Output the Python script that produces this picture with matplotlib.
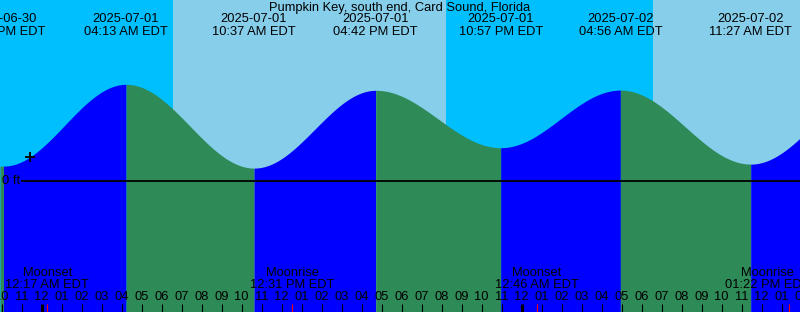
import numpy as np
import matplotlib
matplotlib.use("Agg")
import matplotlib.pyplot as plt
from matplotlib.transforms import blended_transform_factory

plt.rcParams["font.family"] = ["Liberation Sans", "DejaVu Sans"]

title = "Pumpkin Key, south end, Card Sound, Florida"

# Tide extremes (hours relative to 2025-07-01 00:00 EDT), heights in ft
tide_hours = [-14.3, -1.91, 4.217, 10.617, 16.7, 22.95, 28.933, 35.45, 41.65]
tide_ft = [0.47, 0.072, 0.481, 0.062, 0.451, 0.164, 0.452, 0.082, 0.46]
tide_dates = ["", "2025-06-30", "2025-07-01", "2025-07-01", "2025-07-01",
              "2025-07-01", "2025-07-02", "2025-07-02", ""]
tide_times = ["", "10:05 PM EDT", "04:13 AM EDT", "10:37 AM EDT", "04:42 PM EDT",
              "10:57 PM EDT", "04:56 AM EDT", "11:27 AM EDT", ""]

# Sun events (hours): sunrise, sunset, sunrise
sun_hours = [6.567, 20.217, 30.58]

# Moon events
moon_hours = [0.283, 12.517, 24.767, 37.367]
moon_names = ["Moonset", "Moonrise", "Moonset", "Moonrise"]
moon_times = ["12:17 AM EDT", "12:31 PM EDT", "12:46 AM EDT", "01:22 PM EDT"]

# Current-time marker
now_hour = -0.585

XMIN, XMAX = -2.085, 37.915
W, H = 800, 312
ZERO_PX = 180.5
PX_PER_FT = 200.0
YTOP = ZERO_PX / PX_PER_FT
YBOT = -(H - ZERO_PX) / PX_PER_FT
FS = 9.3

NIGHT = "#00BFFF"
DAY = "#87CEEB"
RISE = "#0000FF"
FALL = "#2E8B57"

fig = plt.figure(figsize=(8.0, 3.12), dpi=100)
ax = fig.add_axes([0, 0, 1, 1])
ax.set_xlim(XMIN, XMAX)
ax.set_ylim(YBOT, YTOP)
ax.axis("off")
ax.add_patch(plt.Rectangle((XMIN, YBOT), XMAX - XMIN, YTOP - YBOT, color=NIGHT, zorder=0))

# day bands
edges = [XMIN] + sun_hours + [XMAX]
for i in range(len(edges) - 1):
    if i % 2 == 1:
        ax.axvspan(edges[i], edges[i + 1], color=DAY, lw=0, zorder=1)


def tide_curve(t):
    th = np.array(tide_hours)
    hf = np.array(tide_ft)
    i = np.clip(np.searchsorted(th, t) - 1, 0, len(th) - 2)
    f = (t - th[i]) / (th[i + 1] - th[i])
    return hf[i] + (hf[i + 1] - hf[i]) * (1 - np.cos(np.pi * f)) / 2


for i in range(len(tide_hours) - 1):
    a = max(tide_hours[i], XMIN)
    b = min(tide_hours[i + 1], XMAX)
    if b <= a:
        continue
    ts = np.linspace(a, b, 400)
    col = RISE if tide_ft[i + 1] > tide_ft[i] else FALL
    ax.fill_between(ts, YBOT, tide_curve(ts), color=col, lw=0, zorder=2)

# zero line
x0 = XMIN + 22 / 20.0
ax.plot([x0, XMAX], [0, 0], color="black", lw=1.3, zorder=3)
ax.text(XMIN + 2 / 20.0, 0, "0 ft", ha="left", va="center", fontsize=FS, zorder=4)

# now marker
ax.plot([now_hour], [tide_curve(np.array([now_hour]))[0]], marker="+", color="black",
        ms=6.5, mew=1.3, zorder=4)

tr = blended_transform_factory(ax.transData, ax.transAxes)


def yfrac(px):
    return 1 - px / H


ax.text(0.5, yfrac(7.5), title, transform=ax.transAxes, ha="center", va="center",
        fontsize=FS, zorder=5)
for h, d, t in zip(tide_hours, tide_dates, tide_times):
    if not d:
        continue
    ax.text(h, yfrac(19.5), d, transform=tr, ha="center", va="center", fontsize=FS, zorder=5)
    ax.text(h, yfrac(32), t, transform=tr, ha="center", va="center", fontsize=FS, zorder=5)

# moon labels
for h, n, t in zip(moon_hours, moon_names, moon_times):
    lh = min(h, XMAX - 1.65)
    ax.text(lh, yfrac(273.5), n, transform=tr, ha="center", va="center", fontsize=FS, zorder=5)
    ax.text(lh, yfrac(285.5), t, transform=tr, ha="center", va="center", fontsize=FS, zorder=5)
    ax.vlines(h, 0, 8.5 / H, transform=tr, color="red", lw=0.8, zorder=6)

# hour ticks
for hr in range(-3, 39):
    hh = hr % 24
    h12 = hh % 12 or 12
    ax.text(hr, yfrac(297), f"{h12:02d}", transform=tr, ha="center", va="center",
            fontsize=FS, zorder=5)
    lw = 2.2 if hh == 0 else 0.8
    ax.vlines(hr, 0, 8.5 / H, transform=tr, color="black", lw=lw, zorder=5)

fig.savefig("out.png", dpi=100)
